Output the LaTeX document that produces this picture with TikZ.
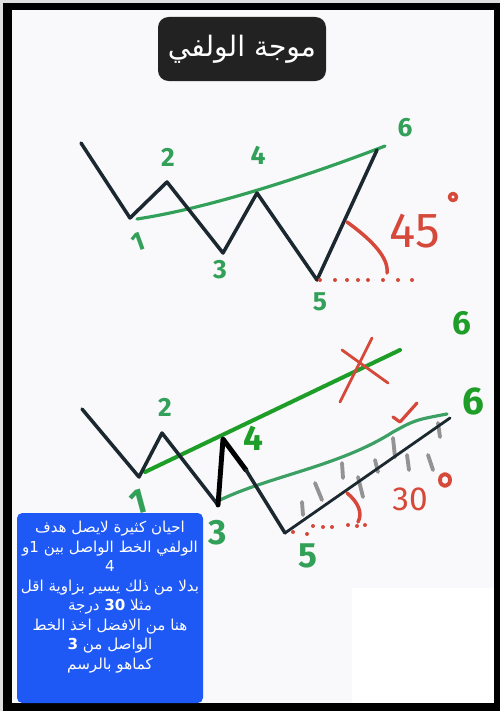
\documentclass[tikz,border=0pt]{standalone}
\usepackage{fontspec}
\TeXXeTstate=1
\newfontfamily\arabicfont[Script=Arabic]{DejaVu Sans}
\newfontfamily\handfont{Fira Sans}
\definecolor{paper}{RGB}{249,249,251}
\definecolor{inkblue}{RGB}{28,40,48}
\definecolor{labelgreen}{RGB}{50,160,88}
\definecolor{brightgreen}{RGB}{30,158,40}
\definecolor{paleline}{RGB}{60,160,100}
\definecolor{markred}{RGB}{214,72,58}
\definecolor{notebg}{RGB}{30,88,245}
\definecolor{titlebg}{RGB}{34,34,34}

\begin{document}
\begin{tikzpicture}[x=0.2mm, y=-0.2mm, line cap=round, line join=round]
		% Node styles
		\tikzstyle{wave} = [draw=inkblue, line width=2pt]
		\tikzstyle{numlabel} = [text=labelgreen, font=\handfont\bfseries\fontsize{15}{15}\selectfont, inner sep=0pt]
		\tikzstyle{biglabel} = [numlabel, font=\handfont\bfseries\fontsize{20}{20}\selectfont]
		\tikzstyle{redtext} = [text=markred, inner sep=0pt]
		\tikzstyle{reddot} = [fill=markred]
		\tikzstyle{hatch} = [draw=gray!85, line width=2.2pt]

		\useasboundingbox (0,0) rectangle (500,711);

		% Frame
		\fill[gray!25] (0,0) rectangle (500,711);
		\fill[black] (3,3) rectangle (500,711);
		\fill[paper] (12,10) rectangle (494,703);
		\fill[white] (352,588) rectangle (494,703);

		% Title
		\node[fill=titlebg, rounded corners=6pt, minimum width=3.36cm, minimum height=1.28cm, text=white, font=\arabicfont\fontsize{16}{20}\selectfont] (title) at (242,49) {\beginR موجة الولفي\endR};

		% Top wave
		\coordinate (a0) at (81,143);
		\coordinate (a1) at (130,218);
		\coordinate (a2) at (167,182);
		\coordinate (a3) at (223,253);
		\coordinate (a4) at (257,193);
		\coordinate (a5) at (317,280);
		\coordinate (a6) at (377,150);
		\coordinate (g1) at (137,219);
		\coordinate (g6) at (385,146);

		\draw[draw=labelgreen, line width=1.8pt] (g1) .. controls (210,208) and (310,175) .. (g6);
		\draw[wave] (a0) -- (a1) -- (a2) -- (a3) -- (a4) -- (a5) -- (a6);

		\node[numlabel, rotate=20] (n1) at (138,242) {1};
		\node[numlabel] (n2) at (168,157) {2};
		\node[numlabel] (n3) at (220,270) {3};
		\node[numlabel] (n4) at (258,155) {4};
		\node[numlabel] (n5) at (320,302) {5};
		\node[numlabel] (n6) at (405,128) {6};

		% 45 degree mark
		\draw[draw=markred, line width=2pt] (347,222) .. controls (372,240) and (389,258) .. (387,273);
		\foreach \dx in {320,335,347,358,368,383,398,412}
			\fill[reddot] (\dx,280) circle[radius=2];
		\node[redtext, font=\handfont\fontsize{28}{28}\selectfont] (ang45) at (415,231) {45};
		\draw[draw=markred, line width=2pt] (453,197) circle[radius=3.5];

		% Bottom wave
		\coordinate (b0) at (82,409);
		\coordinate (b1) at (139,477);
		\coordinate (b2) at (162,433);
		\coordinate (b3) at (218,505);
		\coordinate (b4) at (223,439);
		\coordinate (b45) at (246,470);
		\coordinate (b5) at (285,533);
		\coordinate (b6) at (450,418);
		\coordinate (h1) at (145,472);
		\coordinate (h6) at (400,350);
		\coordinate (k3) at (220,500);
		\coordinate (k6) at (447,414);

		\draw[draw=brightgreen, line width=2.3pt] (h1) -- (h6);
		\draw[draw=paleline, line width=1.8pt] (k3) .. controls (270,476) and (340,466) .. (393,432) .. controls (415,420) .. (k6);
		\foreach \xa/\ya/\xb/\yb in {302/502/303/515, 315/483/322/500, 342/463/343/478, 358/477/363/497, 375/460/378/472, 393/438/395/457, 407/455/409/470, 428/455/433/470, 438/423/440/437}
			\draw[hatch] (\xa,\ya) -- (\xb,\yb);
		\draw[wave] (b0) -- (b1) -- (b2) -- (b3);
		\draw[draw=black, line width=2.8pt] (b3) -- (b4) -- (b45);
		\draw[wave] (b45) -- (b5);
		\draw[draw=inkblue, line width=1.6pt] (b5) -- (b6);

		% Cross and tick
		\draw[draw=markred, line width=1.6pt] (342,350) -- (388,383);
		\draw[draw=markred, line width=1.6pt] (372,338) -- (340,402);
		\draw[draw=markred, line width=1.8pt] (393,417) -- (400,422) -- (417,403);

		\node[numlabel, rotate=15, font=\handfont\bfseries\fontsize{20}{20}\selectfont] (m1) at (138,502) {1};
		\node[numlabel] (m2) at (165,407) {2};
		\node[biglabel] (m3) at (218,533) {3};
		\node[biglabel, text=brightgreen] (m4) at (253,438) {4};
		\node[biglabel] (m5) at (308,556) {5};
		\node[biglabel, text=brightgreen, font=\handfont\bfseries\fontsize{19}{19}\selectfont] (m6a) at (462,323) {6};
		\node[biglabel, text=brightgreen, font=\handfont\bfseries\fontsize{22}{22}\selectfont] (m6b) at (473,401) {6};

		% 30 degree mark
		\draw[draw=markred, line width=2pt] (347,493) .. controls (358,502) and (363,513) .. (358,522);
		\foreach \dx/\dy in {293/532, 307/534, 313/526, 323/527, 332/527, 348/525, 357/526, 365/525}
			\fill[reddot] (\dx,\dy) circle[radius=2];
		\node[redtext, font=\handfont\fontsize{19}{19}\selectfont] (ang30) at (410,499) {30};
		\draw[draw=markred, line width=2.2pt] (445,480) ellipse[x radius=5, y radius=6];

		% Note
		\fill[notebg, rounded corners=3pt] (17,513) rectangle (203,703);
		\node[text=white, align=center, font=\arabicfont\fontsize{8.6}{11.1}\selectfont] (note) at (110,597) {\beginR احيان كثيرة لايصل هدف\endR\\ \beginR الولفي الخط الواصل بين 1و\endR\\ 4\\ \beginR بدلا من ذلك يسير بزاوية اقل\endR\\ \beginR مثلا \beginL\textbf{30}\endL{} درجة\endR\\ \beginR هنا من الافضل اخذ الخط\endR\\ \beginR الواصل من \textbf{3}\endR\\ \beginR كماهو بالرسم\endR};
	\end{tikzpicture}
\end{document}
